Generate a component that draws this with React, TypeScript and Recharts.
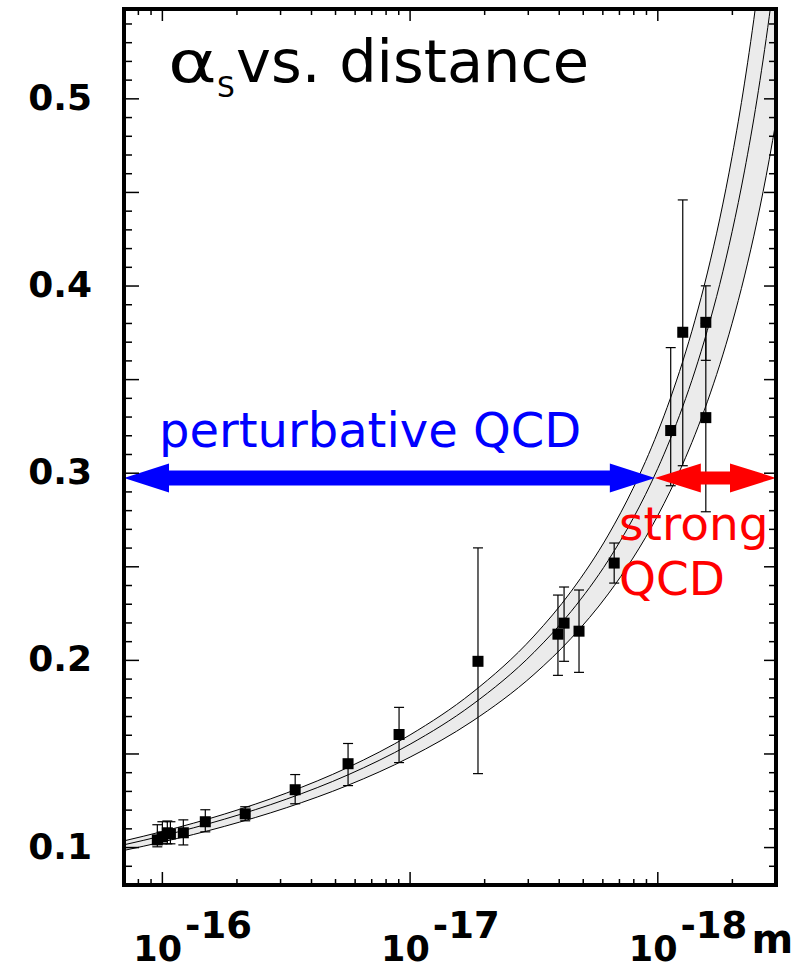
import React from 'react';
import {
  ComposedChart,
  XAxis,
  YAxis,
  Area,
  Line,
  Scatter,
  ErrorBar,
  ReferenceLine,
} from 'recharts';

// Running coupling band: distance (m) and alpha_s for the upper edge, central curve and lower edge
const bandDistance = [
  1.4286e-16, 1e-16, 5.623e-17, 3.162e-17, 1.778e-17, 1e-17, 5.623e-18, 3.162e-18, 2.239e-18,
  1.585e-18, 1.259e-18, 1.122e-18, 1e-18, 8.913e-19, 7.943e-19, 7.079e-19, 6.31e-19, 5.623e-19,
  5.012e-19, 4.467e-19, 3.981e-19, 3.548e-19, 3.3333e-19,
];
const bandUpper = [
  0.10358, 0.10858, 0.11787, 0.12908, 0.14286, 0.1602, 0.18269, 0.213, 0.23683, 0.26694, 0.29185,
  0.30619, 0.32206, 0.33971, 0.35945, 0.38171, 0.40697, 0.43588, 0.46931, 0.50841, 0.55475,
  0.61054, 0.6457,
];
const bandCentral = [
  0.10148, 0.10627, 0.11516, 0.12583, 0.13889, 0.15522, 0.17625, 0.20429, 0.22612, 0.25342,
  0.27576, 0.28852, 0.30257, 0.3181, 0.33535, 0.35463, 0.37633, 0.40093, 0.42904, 0.46149,
  0.49935, 0.5441, 0.57185,
];
const bandLower = [
  0.09848, 0.10299, 0.11131, 0.12125, 0.13333, 0.14832, 0.1674, 0.1925, 0.21176, 0.23551, 0.25469,
  0.26554, 0.27739, 0.29039, 0.30469, 0.32053, 0.33816, 0.35789, 0.38011, 0.40537, 0.43429,
  0.46775, 0.48811,
];

// Measurements: distance (m), alpha_s and the ends of each error bar
const pointDistance = [
  1.048e-16, 1.0e-16, 9.55e-17, 9.28e-17, 8.23e-17, 6.71e-17, 4.63e-17, 2.91e-17, 1.78e-17,
  1.108e-17, 5.32e-18, 2.53e-18, 2.39e-18, 2.08e-18, 1.5e-18, 8.87e-19, 7.93e-19, 6.4e-19, 6.4e-19,
];
const pointAlpha = [
  0.1041, 0.1057, 0.1079, 0.1073, 0.1079, 0.1138, 0.118, 0.1309, 0.1448, 0.1604, 0.1995, 0.214,
  0.2199, 0.2156, 0.252, 0.3228, 0.3753, 0.3806, 0.3297,
];
const pointHigh = [
  0.1122, 0.1138, 0.1142, 0.1138, 0.1148, 0.1202, 0.1218, 0.139, 0.1556, 0.1749, 0.2601, 0.2349,
  0.2392, 0.2376, 0.2627, 0.3671, 0.446, 0.4001, 0.3801,
];
const pointLow = [
  0.1004, 0.102, 0.102, 0.102, 0.1014, 0.1084, 0.1143, 0.1234, 0.1331, 0.1454, 0.1395, 0.192,
  0.1995, 0.1936, 0.2413, 0.2933, 0.304, 0.3603, 0.2794,
];

// Axis ticks
const majorDistance = [1e-16, 1e-17, 1e-18];
const majorExponent = ['-16', '-17', '-18'];
const minorDistance = [
  1.25e-16, 1.1111e-16, 5e-17, 3.3333e-17, 2.5e-17, 2e-17, 1.6667e-17, 1.4286e-17, 1.25e-17,
  1.1111e-17, 5e-18, 3.3333e-18, 2.5e-18, 2e-18, 1.6667e-18, 1.4286e-18, 1.25e-18, 1.1111e-18,
  5e-19,
];
const yLabelValues = [0.1, 0.2, 0.3, 0.4, 0.5];

const xDomain: [number, number] = [3.3333e-19, 1.4286e-16];
const yDomain: [number, number] = [0.08, 0.548];

// Regime arrows at the crossover
const arrowLevel = 0.2975;
const crossoverDistance = 1.028e-18;

const xTicks = [...majorDistance, ...minorDistance].sort((a, b) => b - a);
const yTicks = Array.from({ length: 47 }, (_, i) => Math.round((0.08 + i * 0.01) * 100) / 100);

const bandRows = bandDistance.map((d, i) => ({
  d,
  band: [bandLower[i], bandUpper[i]],
  upper: bandUpper[i],
  central: bandCentral[i],
  lower: bandLower[i],
}));

const pointRows = pointDistance.map((d, i) => ({
  d,
  alpha: pointAlpha[i],
  err: [pointAlpha[i] - pointLow[i], pointHigh[i] - pointAlpha[i]],
}));

const FONT = '"DejaVu Sans", Verdana, sans-serif';
const frameLine = { stroke: '#000', strokeWidth: 4, strokeLinecap: 'square' as const };

const majorIndex = (v: number) => majorDistance.findIndex((m) => Math.abs(m - v) / m < 1e-6);
const isMajorY = (v: number) => Math.round(v * 100) % 5 === 0;

const BottomTick = (props: any) => {
  const { x, y, payload } = props;
  const idx = majorIndex(payload.value);
  const len = idx >= 0 ? 13 : 6;
  return (
    <g>
      <line x1={x} y1={y} x2={x} y2={y - len} stroke="#000" strokeWidth={1.5} />
      {idx >= 0 && (
        <text x={x - 29} y={y + 76} fontFamily={FONT} fontWeight="bold" fontSize={35} fill="#000">
          10
          <tspan dx={3} dy={-23} fontSize={37}>
            {majorExponent[idx]}
          </tspan>
          {idx === majorDistance.length - 1 && (
            <tspan dx={4} dy={15} fontSize={40}>
              m
            </tspan>
          )}
        </text>
      )}
    </g>
  );
};

const TopTick = (props: any) => {
  const { x, y, payload } = props;
  const len = majorIndex(payload.value) >= 0 ? 12 : 6;
  return <line x1={x} y1={y} x2={x} y2={y + len} stroke="#000" strokeWidth={1.5} />;
};

const LeftTick = (props: any) => {
  const { x, y, payload } = props;
  const v = payload.value;
  const len = isMajorY(v) ? 15 : 8;
  const labelled = yLabelValues.some((l) => Math.abs(l - v) < 1e-6);
  return (
    <g>
      <line x1={x} y1={y} x2={x + len} y2={y} stroke="#000" strokeWidth={1.5} />
      {labelled && (
        <text
          x={x - 32}
          y={y + 11}
          textAnchor="end"
          fontFamily={FONT}
          fontWeight="bold"
          fontSize={36}
          fill="#000"
        >
          {v.toFixed(1)}
        </text>
      )}
    </g>
  );
};

const RightTick = (props: any) => {
  const { x, y, payload } = props;
  const len = isMajorY(payload.value) ? 12 : 7;
  return <line x1={x} y1={y} x2={x - len} y2={y} stroke="#000" strokeWidth={1.5} />;
};

const makeArrow = (color: string, shaft: number, head: number, headLen: number) => (props: any) => {
  const { x1, y1, x2 } = props;
  const l = Math.min(x1, x2);
  const r = Math.max(x1, x2);
  const y = y1;
  const d = [
    `M${l},${y}`,
    `L${l + headLen},${y - head}`,
    `L${l + headLen},${y - shaft}`,
    `L${r - headLen},${y - shaft}`,
    `L${r - headLen},${y - head}`,
    `L${r},${y}`,
    `L${r - headLen},${y + head}`,
    `L${r - headLen},${y + shaft}`,
    `L${l + headLen},${y + shaft}`,
    `L${l + headLen},${y + head}`,
    'Z',
  ].join(' ');
  return <path d={d} fill={color} stroke="none" />;
};

const blueArrow = makeArrow('#0000ff', 7.5, 14.5, 45);
const redArrow = makeArrow('#ff0000', 6.5, 14.5, 46);

const SquareMarker = (props: any) => {
  const { cx, cy } = props;
  return <rect x={cx - 5.5} y={cy - 5.5} width={11} height={11} fill="#000" />;
};

// Title and regime captions, laid over the plot
const Annotations = () => (
  <svg
    width={805}
    height={970}
    style={{ position: 'absolute', left: 0, top: 0, pointerEvents: 'none' }}
  >
    <text transform="translate(168,82) scale(1.3,1)" fontFamily={FONT} fontSize={57} fill="#000">
      α
    </text>
    <text x={217} y={97} fontFamily={FONT} fontSize={28} fill="#000">
      S
    </text>
    <text x={236} y={82} fontFamily={FONT} fontSize={59} fill="#000">
      vs. distance
    </text>
    <text x={159} y={447} fontFamily={FONT} fontSize={48} fill="#0000ff">
      perturbative QCD
    </text>
    <text x={619} y={540} fontFamily={FONT} fontSize={47} fill="#ff0000">
      strong
    </text>
    <text x={619} y={595} fontFamily={FONT} fontSize={47} fill="#ff0000">
      QCD
    </text>
  </svg>
);

export default function App() {
  return (
    <div style={{ position: 'absolute', left: 0, top: 0, width: 805, height: 970, background: '#fff' }}>
      <ComposedChart width={805} height={970} margin={{ top: 8, right: 28, bottom: 0, left: 0 }}>
        <XAxis
          xAxisId="b"
          dataKey="d"
          type="number"
          scale="log"
          domain={xDomain}
          allowDataOverflow
          reversed
          ticks={xTicks}
          interval={0}
          tickSize={0}
          tickMargin={0}
          tickLine={false}
          tick={<BottomTick />}
          axisLine={frameLine}
          height={85}
          orientation="bottom"
        />
        <XAxis
          xAxisId="t"
          dataKey="d"
          type="number"
          scale="log"
          domain={xDomain}
          allowDataOverflow
          reversed
          ticks={xTicks}
          interval={0}
          tickSize={0}
          tickMargin={0}
          tickLine={false}
          tick={<TopTick />}
          axisLine={frameLine}
          height={1}
          orientation="top"
        />
        <YAxis
          yAxisId="l"
          type="number"
          domain={yDomain}
          allowDataOverflow
          ticks={yTicks}
          interval={0}
          tickSize={0}
          tickMargin={0}
          tickLine={false}
          tick={<LeftTick />}
          axisLine={frameLine}
          width={124}
          orientation="left"
        />
        <YAxis
          yAxisId="r"
          type="number"
          domain={yDomain}
          allowDataOverflow
          ticks={yTicks}
          interval={0}
          tickSize={0}
          tickMargin={0}
          tickLine={false}
          tick={<RightTick />}
          axisLine={frameLine}
          width={1}
          orientation="right"
        />
        <Area
          xAxisId="b"
          yAxisId="l"
          data={bandRows}
          dataKey="band"
          type="monotone"
          fill="#ebebeb"
          fillOpacity={1}
          stroke="none"
          isAnimationActive={false}
        />
        <Line
          xAxisId="b"
          yAxisId="l"
          data={bandRows}
          dataKey="upper"
          type="monotone"
          stroke="#000"
          strokeWidth={1}
          dot={false}
          isAnimationActive={false}
        />
        <Line
          xAxisId="t"
          yAxisId="r"
          data={bandRows}
          dataKey="central"
          type="monotone"
          stroke="#000"
          strokeWidth={1}
          dot={false}
          isAnimationActive={false}
        />
        <Line
          xAxisId="b"
          yAxisId="l"
          data={bandRows}
          dataKey="lower"
          type="monotone"
          stroke="#000"
          strokeWidth={1}
          dot={false}
          isAnimationActive={false}
        />
        <Scatter
          xAxisId="b"
          yAxisId="l"
          data={pointRows}
          dataKey="alpha"
          shape={<SquareMarker />}
          isAnimationActive={false}
        >
          <ErrorBar dataKey="err" direction="y" width={5} stroke="#000" strokeWidth={1.2} isAnimationActive={false} />
        </Scatter>
        <ReferenceLine
          xAxisId="b"
          yAxisId="l"
          segment={[
            { x: xDomain[1], y: arrowLevel },
            { x: crossoverDistance, y: arrowLevel },
          ]}
          ifOverflow="visible"
          shape={blueArrow}
        />
        <ReferenceLine
          xAxisId="b"
          yAxisId="l"
          segment={[
            { x: crossoverDistance, y: arrowLevel },
            { x: xDomain[0], y: arrowLevel },
          ]}
          ifOverflow="visible"
          shape={redArrow}
        />
      </ComposedChart>
      <Annotations />
    </div>
  );
}
